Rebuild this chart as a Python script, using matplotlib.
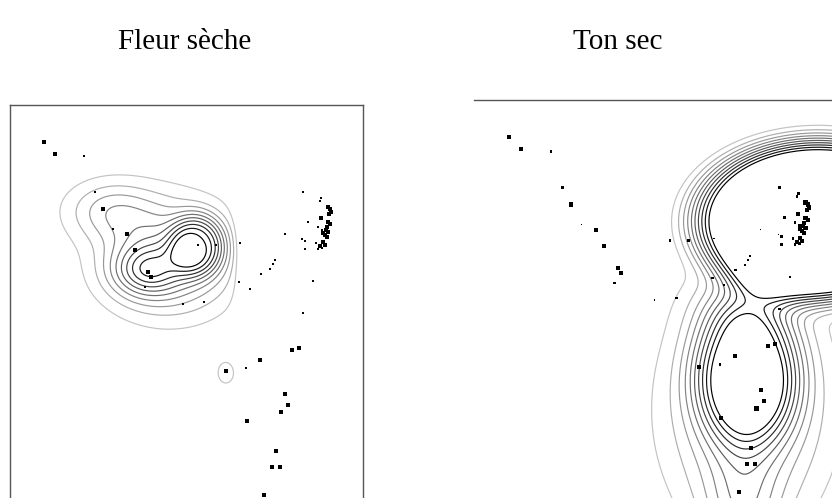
import numpy as np
import matplotlib.pyplot as plt

# product positions on the sensory map (map units, y grows downward)
prod_x = [34, 45, 74, 85, 93, 103, 117, 125, 138, 141, 135, 188, 206, 230, 173, 194,
          229, 240, 251, 260, 263, 265, 275, 293, 303, 293, 282, 289, 250, 236, 216,
          275, 278, 271, 237, 266, 262, 270, 254,
          311, 310, 318, 320, 321, 319, 311, 298, 318, 320, 317, 316, 318, 315, 317,
          308, 312, 313, 292, 295, 306, 313, 315, 295, 308, 312, 310]
prod_y = [37, 49, 51, 87, 104, 124, 129, 145, 167, 172, 182, 140, 140, 138, 199, 197,
          177, 184, 169, 164, 159, 155, 129, 87, 176, 208, 245, 243, 255, 263, 266,
          289, 300, 307, 316, 346, 362, 362, 390,
          93, 96, 102, 104, 107, 109, 113, 117, 117, 119, 122, 125, 127, 130, 132,
          122, 125, 128, 134, 136, 138, 137, 140, 144, 144, 143, 141]
prod_size = [3, 3, 2, 2, 3, 1, 3, 3, 3, 3, 2, 2, 2, 1, 1, 2,
             2, 2, 2, 1, 1, 1, 1, 2, 2, 2, 3, 3, 3, 2, 3,
             3, 3, 3, 3, 3, 3, 3, 3,
             2, 2, 3, 3, 3, 3, 3, 2, 3, 3, 3, 3, 3, 3, 3,
             2, 2, 3, 1, 2, 2, 3, 3, 2, 2, 2, 3]

# response surfaces: one bump per entry (centre, radii, flatness, height)
fleur_cx = [187, 135, 160, 100, 250, 216]
fleur_cy = [140, 166, 153, 105, 140, 268]
fleur_rx = [28, 34, 63, 45, 17, 13]
fleur_ry = [31, 25, 53, 30, 70, 17]
fleur_p = [1.5, 1, 1, 1, 1, 1]
fleur_amp = [0.60, 0.45, 0.60, 0.30, -0.80, 0.14]

ton_cx = [330, 262, 262, 258, 260]
ton_cy = [120, 272, 310, 410, 205]
ton_rx = [118, 50, 72, 35, 45]
ton_ry = [80, 70, 105, 60, 35]
ton_p = [3, 1.5, 1, 1, 1]
ton_amp = [1.60, 0.90, 0.50, 0.30, 0.30]

levels = np.linspace(0.1, 1.0, 10)

marker_area = {1: 1.2, 2: 3.5, 3: 8.5}


def surface(X, Y, cx, cy, rx, ry, p, amp):
    Z = np.zeros_like(X)
    for a, b, c, d, e, h in zip(cx, cy, rx, ry, p, amp):
        q = ((X - a) / c) ** 2 + ((Y - b) / d) ** 2
        Z += h * np.exp(-q ** e)
    return Z


fig = plt.figure(figsize=(8.32, 4.98), dpi=100)
W, H = 832.0, 498.0

gx = np.linspace(0, 353, 360)
gy = np.linspace(0, 410, 420)
X, Y = np.meshgrid(gx, gy)
cols = plt.cm.Greys(np.linspace(0.35, 1.0, len(levels)))
sizes = [marker_area[s] for s in prod_size]

panels = [
    ("Fleur sèche", [10 / W, 1 - 515 / H, 353 / W, 410 / H], 185,
     (fleur_cx, fleur_cy, fleur_rx, fleur_ry, fleur_p, fleur_amp), True),
    ("Ton sec", [474 / W, 1 - 512 / H, 368 / W, 412 / H], 618,
     (ton_cx, ton_cy, ton_rx, ton_ry, ton_p, ton_amp), False),
]

for title, rect, tx, comp, boxed in panels:
    ax = fig.add_axes(rect)
    Z = surface(X, Y, *comp)
    ax.contour(X, Y, Z, levels=levels, colors=cols, linewidths=0.85)
    ax.scatter(prod_x, prod_y, s=sizes, marker="s", c="k", linewidths=0, zorder=3)
    ax.set_xlim(0, 353)
    ax.set_ylim(410, 0)
    ax.set_xticks([])
    ax.set_yticks([])
    for side, sp in ax.spines.items():
        sp.set_color("#555555")
        sp.set_linewidth(1.0)
        if not boxed and side != "top":
            sp.set_visible(False)
    fig.text(tx / W, 1 - 42 / H, title, ha="center", va="center",
             fontsize=21, family="Liberation Serif")

plt.savefig("out.png", dpi=100)
